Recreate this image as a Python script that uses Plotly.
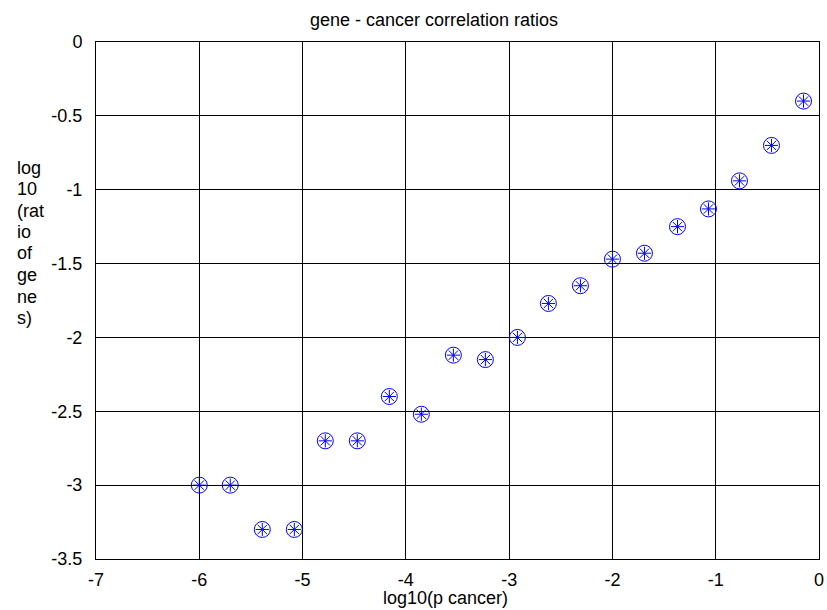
import plotly.graph_objects as go

log_p_cancer = [-6.0, -5.7, -5.39, -5.08, -4.78, -4.47, -4.16, -3.85, -3.54, -3.23,
                -2.92, -2.62, -2.31, -2.0, -1.69, -1.37, -1.07, -0.77, -0.46, -0.15]
log_ratio_genes = [-3.0, -3.0, -3.3, -3.3, -2.7, -2.7, -2.4, -2.52, -2.12, -2.15,
                   -2.0, -1.77, -1.65, -1.47, -1.43, -1.25, -1.13, -0.94, -0.70, -0.40]

x_ticks = [-7, -6, -5, -4, -3, -2, -1, 0]
x_tick_text = ["-7", "-6", "-5", "-4", "-3", "-2", "-1", "0"]
y_ticks = [0, -0.5, -1, -1.5, -2, -2.5, -3, -3.5]
y_tick_text = ["0", "-0.5", "-1", "-1.5", "-2", "-2.5", "-3", "-3.5"]
y_title_lines = ["log", "10", "(rat", "io", "of", "ge", "ne", "s)"]

FONT = "Liberation Sans, Arial, sans-serif"
FS = 18
BLUE = "rgb(0,0,255)"
W, H = 827, 610
L, R, T, B = 96, 2.5, 42, 51
PW, PH = W - L - R, H - T - B

fig = go.Figure()
fig.add_trace(go.Scatter(
    x=log_p_cancer, y=log_ratio_genes, mode="markers",
    marker=dict(symbol="circle-open", size=16, color=BLUE, line=dict(width=1, color=BLUE)),
    hoverinfo="skip", showlegend=False))
fig.add_trace(go.Scatter(
    x=log_p_cancer, y=log_ratio_genes, mode="markers",
    marker=dict(symbol="asterisk-open", size=11, color=BLUE, line=dict(width=1, color=BLUE)),
    showlegend=False))

axis_common = dict(
    showgrid=True, gridcolor="black", gridwidth=1,
    showline=True, linecolor="black", linewidth=1, mirror=True,
    zeroline=False, ticks="", ticklabeloverflow="allow",
    tickfont=dict(family=FONT, size=FS, color="black"),
)

fig.update_layout(
    width=W, height=H,
    margin=dict(l=L, r=R, t=T, b=B),
    paper_bgcolor="white", plot_bgcolor="white",
    font=dict(family=FONT, size=FS, color="black"),
    xaxis=dict(range=[-7, 0], tickmode="array", tickvals=x_ticks, ticktext=x_tick_text,
               ticklabelstandoff=4, **axis_common),
    yaxis=dict(range=[-3.5, 0], tickmode="array", tickvals=y_ticks, ticktext=y_tick_text,
               ticklabelstandoff=9, **axis_common),
)

def px_to_paper(xp, yp):
    return (xp - L) / PW, (H - B - yp) / PH

# title
tx, ty = px_to_paper(436.5, 20)
fig.add_annotation(text="gene - cancer correlation ratios", xref="paper", yref="paper",
                   x=tx, y=ty, xanchor="center", yanchor="middle", showarrow=False,
                   font=dict(family=FONT, size=FS, color="black"))
# x axis label
lx, ly = px_to_paper(448.5, 598)
fig.add_annotation(text="log10(p cancer)", xref="paper", yref="paper",
                   x=lx, y=ly, xanchor="center", yanchor="middle", showarrow=False,
                   font=dict(family=FONT, size=FS, color="black"))
# y axis label, wrapped one piece per line
for i, line in enumerate(y_title_lines):
    ax, ay = px_to_paper(14, 167.5 + 21.5 * i)
    fig.add_annotation(text=line, xref="paper", yref="paper", x=ax, y=ay,
                       xanchor="left", yanchor="middle", showarrow=False,
                       font=dict(family=FONT, size=FS, color="black"))

fig.write_html("out.html")
